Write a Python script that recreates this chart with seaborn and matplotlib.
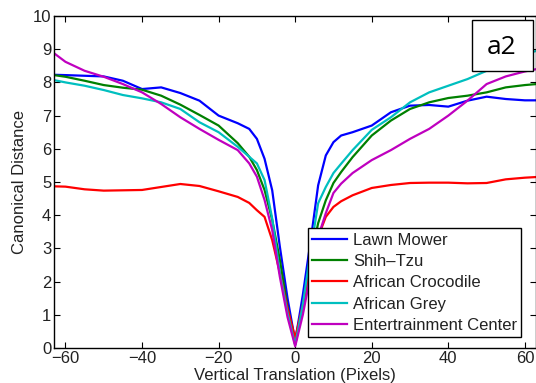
import seaborn as sns
import numpy as np
import matplotlib.pyplot as plt
import matplotlib.patches as mpatches
import pandas as pd

# vertical translation in pixels
shift = [-63, -60, -55, -50, -45, -40, -35, -30, -25, -20, -15, -12, -10, -8, -6, -4, -2, 0,
         2, 4, 6, 8, 10, 12, 15, 20, 25, 30, 35, 40, 45, 50, 55, 60, 63]

lawn_mower = [8.23, 8.22, 8.2, 8.18, 8.05, 7.8, 7.85, 7.68, 7.45, 7.0, 6.77, 6.6, 6.3, 5.7, 4.75, 3.05, 1.5, 0.2,
              1.6, 3.2, 4.9, 5.8, 6.2, 6.4, 6.5, 6.7, 7.1, 7.3, 7.32, 7.27, 7.45, 7.57, 7.5, 7.46, 7.46]
shih_tzu = [8.22, 8.17, 8.05, 7.92, 7.84, 7.78, 7.6, 7.33, 7.02, 6.7, 6.17, 5.76, 5.36, 4.76, 3.86, 2.65, 1.23, 0.1,
            1.2, 2.65, 3.76, 4.45, 4.97, 5.3, 5.75, 6.4, 6.85, 7.2, 7.4, 7.53, 7.6, 7.7, 7.85, 7.92, 7.95]
crocodile = [4.87, 4.86, 4.78, 4.74, 4.75, 4.76, 4.85, 4.94, 4.88, 4.72, 4.55, 4.37, 4.15, 3.95, 3.25, 2.26, 1.2, 0.3,
             1.3, 2.44, 3.35, 3.95, 4.25, 4.42, 4.6, 4.82, 4.91, 4.97, 4.98, 4.98, 4.96, 4.97, 5.08, 5.13, 5.15]
african_grey = [8.07, 8.0, 7.9, 7.77, 7.62, 7.52, 7.4, 7.2, 6.8, 6.5, 6.06, 5.76, 5.56, 5.06, 3.9, 2.26, 1.05, 0.1,
                1.3, 2.9, 4.36, 4.85, 5.27, 5.55, 5.96, 6.57, 6.95, 7.4, 7.7, 7.9, 8.1, 8.35, 8.6, 8.85, 8.95]
ent_center = [8.88, 8.62, 8.35, 8.17, 7.95, 7.7, 7.35, 6.95, 6.6, 6.27, 5.96, 5.56, 5.16, 4.46, 3.55, 2.14, 0.93, 0.05,
              1.0, 2.2, 3.35, 4.06, 4.67, 4.95, 5.27, 5.66, 5.96, 6.3, 6.6, 7.0, 7.45, 7.95, 8.18, 8.33, 8.4]

names = ["Lawn Mower", "Shih\u2013Tzu", "African Crocodile", "African Grey", "Entertrainment Center"]
colors = ["#0000ff", "#008000", "#ff0000", "#00bfbf", "#bf00bf"]

frames = []
for name, vals in zip(names, [lawn_mower, shih_tzu, crocodile, african_grey, ent_center]):
    frames.append(pd.DataFrame({"shift": shift, "dist": vals, "obj": name}))
data = pd.concat(frames, ignore_index=True)

plt.rcParams['font.family'] = ['Liberation Sans', 'DejaVu Sans']

fig = plt.figure(figsize=(5.36, 3.83), dpi=100)
ax = fig.add_axes([0.1007, 0.0914, 0.9, 0.8668])

sns.lineplot(data=data, x="shift", y="dist", hue="obj", palette=colors, hue_order=names,
             linewidth=1.6, ax=ax)

ax.set_xlim(-63, 63)
ax.set_ylim(0, 10)
ax.set_xticks([-60, -40, -20, 0, 20, 40, 60])
ax.set_xticklabels(["\u221260", "\u221240", "\u221220", "0", "20", "40", "60"])
ax.set_yticks(range(0, 11))
ax.tick_params(direction="in", top=True, right=True, length=4, labelsize=12, pad=2,
               labelcolor="#222222")
ax.set_xlabel("Vertical Translation (Pixels)", fontsize=12, labelpad=1.5, color="#222222")
ax.set_ylabel("Canonical Distance", fontsize=12, labelpad=4, color="#222222")
for s in ax.spines.values():
    s.set_linewidth(1.0)

leg = ax.legend(loc="lower right", bbox_to_anchor=(0.969, 0.033), fontsize=12, frameon=True,
                fancybox=False, framealpha=1, edgecolor="black", handlelength=2.1,
                labelspacing=0.38, borderpad=0.25, handletextpad=0.35, borderaxespad=0)
leg.get_frame().set_linewidth(1.0)
for t in leg.get_texts():
    t.set_color("#222222")

# "a2" panel tag
ax.add_patch(mpatches.Rectangle((0.867, 0.835), 0.1266, 0.153, transform=ax.transAxes,
                                facecolor="white", edgecolor="black", linewidth=1, zorder=5))
ax.text(0.927, 0.905, "a2", transform=ax.transAxes, fontsize=19, family="Open Sans",
        ha="center", va="center", zorder=6)

fig.savefig("out.png", dpi=100)
